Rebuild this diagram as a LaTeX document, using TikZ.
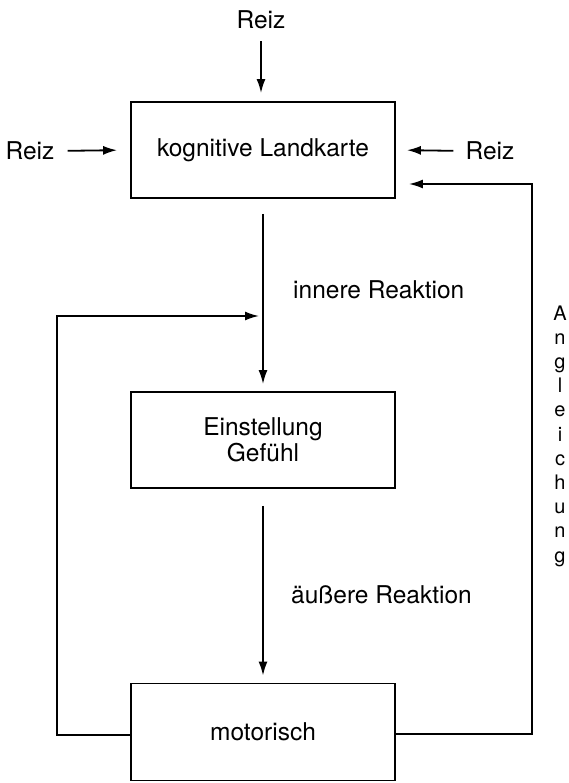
\documentclass[tikz,border=0pt]{standalone}
\usepackage{fontspec}
\setmainfont{TeX Gyre Heros}
\usetikzlibrary{arrows.meta}
\begin{document}
\begin{tikzpicture}[x=1pt,y=-1pt,
  box/.style={draw,line width=1.8pt,minimum width=264pt,minimum height=96pt,inner sep=0pt,align=center,font=\fontsize{24.5}{26}\selectfont},
  lbl/.style={inner sep=0pt,font=\fontsize{24.5}{26}\selectfont},
  arr/.style={line width=1.8pt,-{Latex[length=14pt,width=9pt]}},
  ln/.style={line width=1.8pt}]
\useasboundingbox (0,0) rectangle (569,783);
\node[box] (b1) at (263,150) {kognitive Landkarte};
\node[box] (b2) at (263,440) {Einstellung\\Gefühl};
\node[box,minimum height=97pt] (b3) at (263,732) {motorisch};
\node[lbl] (rt) at (261,20) {Reiz};
\node[lbl] (rl) at (30,151) {Reiz};
\node[lbl] (rr) at (490,151) {Reiz};
\node[lbl,anchor=west] (ir) at (293,290) {innere Reaktion};
\node[lbl,anchor=west] (ar) at (291,595) {äußere Reaktion};
\node[inner sep=0pt,align=center,font=\fontsize{20}{24.2}\selectfont] (ag) at (560,436) {A\\n\\g\\l\\e\\i\\c\\h\\u\\n\\g};
\draw[arr,shorten <=12pt,shorten >=8pt] (rt.south) -- (rt.south |- b1.north);
\draw[arr,shorten <=13pt,shorten >=13pt] (rl.east) -- (b1.west);
\draw[arr,shorten <=12pt,shorten >=11pt] (rr.west) -- (b1.east);
\draw[arr,shorten <=15pt,shorten >=7pt] (b1.south) -- (b2.north);
\draw[arr,shorten <=17pt,shorten >=7pt] (b2.south) -- (b3.north);
\coordinate (lc) at (57,316);
\coordinate (lm) at (259,316);
\draw[arr] ([yshift=-3pt]b3.west) -| (lc) -- (lm);
\coordinate (rc) at (532,184);
\draw[arr,shorten >=13pt] ([yshift=-2pt]b3.east) -| (rc) -- ([yshift=-34pt]b1.east);
\end{tikzpicture}
\end{document}
